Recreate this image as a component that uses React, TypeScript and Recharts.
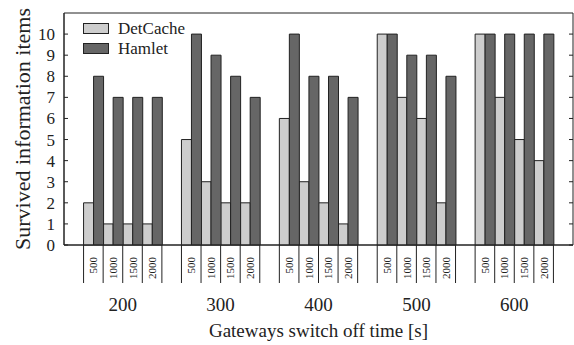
import { Bar, BarChart, Legend, ReferenceArea, XAxis, YAxis } from "recharts";

const groups = ["200", "300", "400", "500", "600"];
const intervals = ["500", "1000", "1500", "2000"];
const detCache = [
  [2, 1, 1, 1],
  [5, 3, 2, 2],
  [6, 3, 2, 1],
  [10, 7, 6, 2],
  [10, 7, 5, 4],
];
const hamlet = [
  [8, 7, 7, 7],
  [10, 9, 8, 7],
  [10, 8, 8, 7],
  [10, 9, 9, 8],
  [10, 10, 10, 10],
];
const yTicks = [0, 1, 2, 3, 4, 5, 6, 7, 8, 9, 10];

const W = 574;
const H = 345;
const margin = { top: 13, right: 1, left: 0, bottom: 0 };
const Y_W = 64;
const X_H = 100;
const FONT = "'Liberation Serif', 'Times New Roman', serif";
const LIGHT = "#cdcdcd";
const DARK = "#666666";
const INK = "#222";

type Row = { key: string; spacer?: boolean; group?: string; interval?: string; idx?: number; detCache?: number; hamlet?: number };

const rows: Row[] = [{ key: "gap0", spacer: true }];
groups.forEach((g, gi) => {
  intervals.forEach((iv, ii) => {
    rows.push({ key: `${g}-${iv}`, group: g, interval: iv, idx: ii, detCache: detCache[gi][ii], hamlet: hamlet[gi][ii] });
  });
  rows.push({ key: `gap${gi + 1}`, spacer: true });
});
const rowByKey: Record<string, Row> = {};
rows.forEach((r) => (rowByKey[r.key] = r));

const plotRight = W - margin.right;
const slot = (plotRight - Y_W) / rows.length;

function PairTick(props: any) {
  const { x, y, payload } = props;
  const row = rowByKey[payload.value];
  if (!row || row.spacer) return <g />;
  const half = slot / 2;
  return (
    <g>
      <line x1={x - half} y1={y} x2={x - half} y2={y + 38} stroke={INK} />
      {row.idx === 3 && <line x1={x + half} y1={y} x2={x + half} y2={y + 38} stroke={INK} />}
      <text
        transform={`translate(${x + 4},${y + 12}) rotate(-90)`}
        textAnchor="end"
        fontSize={11}
        fontFamily={FONT}
        fill={INK}
      >
        {row.interval}
      </text>
      {row.idx === 1 && (
        <text x={x + half} y={y + 66} textAnchor="middle" fontSize={19} fontFamily={FONT} fill={INK}>
          {row.group}
        </text>
      )}
    </g>
  );
}

function CountTick(props: any) {
  const { x, y, payload } = props;
  return (
    <g>
      <line x1={x} y1={y} x2={x + 4} y2={y} stroke={INK} />
      <line x1={plotRight - 4} y1={y} x2={plotRight} y2={y} stroke={INK} />
      <text x={x - 9} y={y + 6} textAnchor="end" fontSize={17} fontFamily={FONT} fill={INK}>
        {payload.value}
      </text>
    </g>
  );
}

function LegendBox() {
  return (
    <svg width={130} height={40}>
      <rect x={0.5} y={3.5} width={25} height={10} fill={LIGHT} stroke={INK} />
      <text x={35} y={14} fontSize={17} fontFamily={FONT} fill={INK}>DetCache</text>
      <rect x={0.5} y={23.5} width={25} height={10} fill={DARK} stroke={INK} />
      <text x={35} y={34} fontSize={17} fontFamily={FONT} fill={INK}>Hamlet</text>
    </svg>
  );
}

export default function App() {
  return (
    <div style={{ position: "absolute", left: 0, top: 0, width: W, height: H, background: "#fff" }}>
      <BarChart width={W} height={H} data={rows} margin={margin} barGap={0} barCategoryGap={0}>
        <XAxis
          dataKey="key"
          interval={0}
          height={X_H}
          tickLine={false}
          tickSize={0}
          tickMargin={0}
          axisLine={{ stroke: INK }}
          tick={<PairTick />}
          label={{
            content: (p: any) => (
              <text x={(Y_W + plotRight) / 2} y={p.viewBox.y + 92} textAnchor="middle" fontSize={19} fontFamily={FONT} fill={INK}>
                Gateways switch off time [s]
              </text>
            ),
          }}
        />
        <YAxis
          width={Y_W}
          domain={[0, 11]}
          ticks={yTicks}
          interval={0}
          tickLine={false}
          tickSize={0}
          tickMargin={0}
          axisLine={{ stroke: INK }}
          tick={<CountTick />}
          label={{
            content: (p: any) => (
              <text
                transform={`translate(30,${p.viewBox.y + p.viewBox.height / 2}) rotate(-90)`}
                textAnchor="middle"
                fontSize={22}
                fontFamily={FONT}
                fill={INK}
              >
                Survived information items
              </text>
            ),
          }}
        />
        <ReferenceArea x1="gap0" x2="gap5" y1={0} y2={11} fill="none" stroke={INK} ifOverflow="visible" />
        <Legend
          layout="vertical"
          align="center"
          verticalAlign="middle"
          wrapperStyle={{ left: 83, top: 20, width: 130 }}
          content={() => <LegendBox />}
        />
        <Bar dataKey="detCache" name="DetCache" fill={LIGHT} stroke={INK} strokeWidth={1} isAnimationActive={false} />
        <Bar dataKey="hamlet" name="Hamlet" fill={DARK} stroke={INK} strokeWidth={1} isAnimationActive={false} />
      </BarChart>
    </div>
  );
}
